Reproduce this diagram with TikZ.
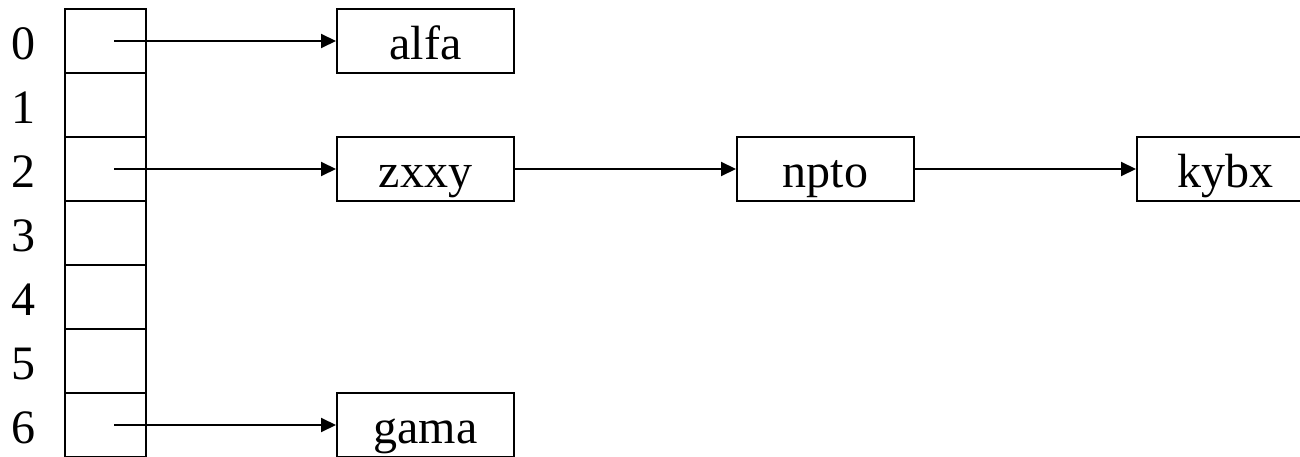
\documentclass[tikz,border=0pt]{standalone}
\usepackage{fontspec}
\setmainfont{Liberation Serif}
\usetikzlibrary{arrows.meta}
\begin{document}
\begin{tikzpicture}[x=1pt,y=-1pt,
  cell/.style={draw,line width=2pt,minimum width=81pt,minimum height=64pt,inner sep=0pt},
  item/.style={draw,line width=2pt,minimum width=177pt,minimum height=64pt,inner sep=0pt,
    font=\fontsize{48}{56}\selectfont,text height=37pt,text depth=0pt},
  idx/.style={inner sep=0pt,font=\fontsize{48}{56}\selectfont,text height=37pt,text depth=0pt},
  link/.style={line width=2pt,-{Triangle[length=15pt,width=14pt]}}]
\useasboundingbox (0,0) rectangle (1300,457);
\clip (0,0) rectangle (1300,457);
\foreach \i in {0,...,6}{
  \node[cell] (c\i) at (105.5,{41+64*\i}) {};
  \node[idx] (l\i) at (24,{41+64*\i}) {\i};
}
\node[item] (alfa) at (425.5,41) {alfa};
\node[item] (zxxy) at (425.5,169) {zxxy};
\node[item] (npto) at (825.5,169) {npto};
\node[item] (kybx) at (1225.5,169) {kybx};
\node[item] (gama) at (425.5,425) {gama};
\coordinate (p0) at ([xshift=8.5pt]c0.center);
\coordinate (p2) at ([xshift=8.5pt]c2.center);
\coordinate (p6) at ([xshift=8.5pt]c6.center);
\draw[link] (p0) -- (alfa.west);
\draw[link] (p2) -- (zxxy.west);
\draw[link] (p6) -- (gama.west);
\draw[link] (zxxy.east) -- (npto.west);
\draw[link] (npto.east) -- (kybx.west);
\end{tikzpicture}
\end{document}
